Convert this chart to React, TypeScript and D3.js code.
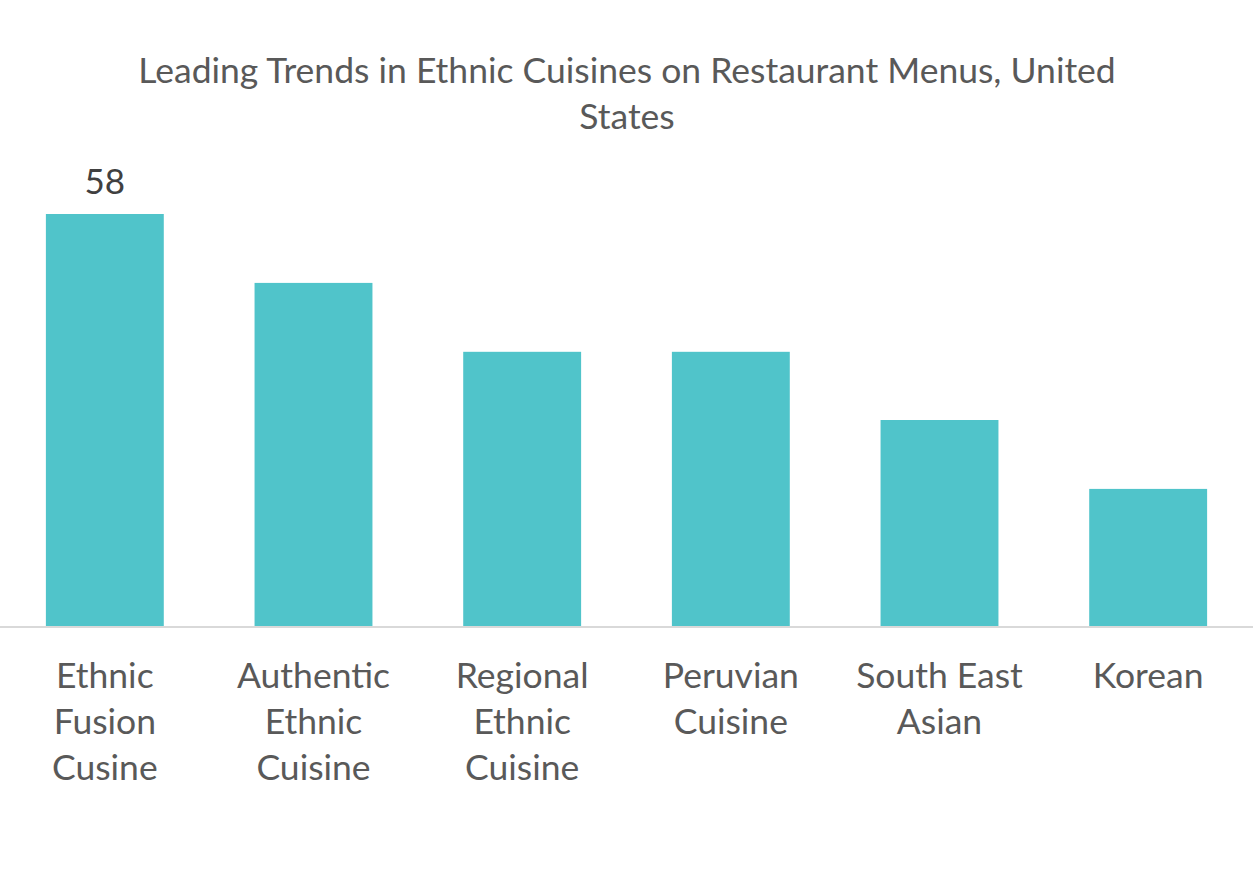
import React from "react";
import * as d3 from "d3";

const titleLines = ["Leading Trends in Ethnic Cuisines on Restaurant Menus, United", "States"];
const categories = [
  ["Ethnic", "Fusion", "Cusine"],
  ["Authentic", "Ethnic", "Cuisine"],
  ["Regional", "Ethnic", "Cuisine"],
  ["Peruvian", "Cuisine"],
  ["South East", "Asian"],
  ["Korean"],
];
const values = [58, 48.3, 38.6, 38.6, 29, 19.3];
const labelIndex = [0];

const W = 1253;
const H = 878;
const FONT = "Lato, 'Open Sans', sans-serif";

export default function App() {
  const ids = categories.map((_, i) => String(i));
  const x = d3.scaleBand<string>().domain(ids).range([0.5, 1252.5]).paddingInner(0.435).paddingOuter(0.2175);
  const baseY = 626;
  const y = d3.scaleLinear().domain([0, 58]).range([baseY, 214]);
  return (
    <svg width={W} height={H} style={{ position: "absolute", left: 0, top: 0, background: "#fff" }}>
      <g fontFamily={FONT} fill="#595959" fontSize={35.5} textAnchor="middle">
        {titleLines.map((t, i) => (
          <text key={i} x={627} y={83 + i * 46}>{t}</text>
        ))}
      </g>
      {values.map((v, i) => (
        <rect key={i} x={x(String(i))} y={y(v)} width={x.bandwidth()} height={baseY - y(v)} fill="#50C4CA" />
      ))}
      <line x1={0} x2={W} y1={baseY + 1} y2={baseY + 1} stroke="#D9D9D9" strokeWidth={2} />
      {labelIndex.map((i) => (
        <text key={i} x={x(String(i))! + x.bandwidth() / 2} y={y(values[i]) - 20} textAnchor="middle" fontFamily={FONT} fontSize={35} fill="#404040">
          {values[i]}
        </text>
      ))}
      <g fontFamily={FONT} fill="#595959" fontSize={35.5} textAnchor="middle">
        {categories.map((lines, i) =>
          lines.map((l, j) => (
            <text key={i + "-" + j} x={x(String(i))! + x.bandwidth() / 2} y={688 + j * 46}>{l}</text>
          ))
        )}
      </g>
    </svg>
  );
}
